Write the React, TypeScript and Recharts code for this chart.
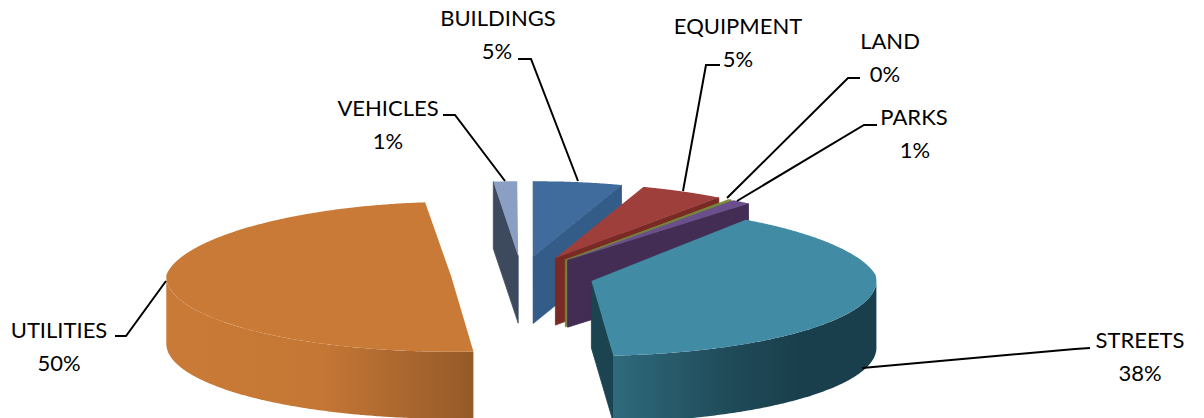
import { PieChart, Pie } from 'recharts'

const names = ['VEHICLES', 'BUILDINGS', 'EQUIPMENT', 'LAND', 'PARKS', 'STREETS', 'UTILITIES']
const shares = [1.45, 5.4, 5, 0.2, 1.1, 37.5, 49.5]

const topColors = ['#8a9fc3', '#3f6c9d', '#9e3f3c', '#77933c', '#6a4f8c', '#418ba5', '#c97a36']
const wallColors = ['#3d4a5e', '#345c88', '#7a2a24', '#77803c', '#432d54', 'url(#wallStreets)', 'url(#wallUtilities)']
const edgeColors = ['#3d4a5e', '#345c88', '#7a2a24', '#77803c', '#432d54', '#1b4350', '#c97a36']
// extra degrees on the leading edge: the big front slice overlaps the back ones in the 3D view
const leadAngles = [0, 0, 0, 0, 0, 5.5, 0]
// the rims of the small back slices sit a bit further right than a plain radial explode puts them
const backShift = [5, 7, 8, 8, 8, 0, 0]

const FLATTEN = 0.263
const DEPTH = 67
const EXPLODE = 72
const PERSPECTIVE = 0.06

// label block + leader line for each slice
const labelSpots: Record<string, { x: number; y: number; px: number; line: string }> = {
  VEHICLES: { x: 388, y: 116, px: 388, line: '443,115 455,115 505,181' },
  BUILDINGS: { x: 498, y: 26, px: 497, line: '518,59 531,59 578,181' },
  EQUIPMENT: { x: 738, y: 34, px: 738, line: '720,65 706,65 683,191' },
  LAND: { x: 890, y: 49, px: 885, line: '860,78 848,78 727,198' },
  PARKS: { x: 914, y: 125, px: 915, line: '877,125 864,125 737,201' },
  STREETS: { x: 1140, y: 348, px: 1140, line: '1090,348 1075,349 862,368' },
  UTILITIES: { x: 59, y: 338, px: 59, line: '115,336 126,336 166,281' },
}

const data = names.map((name, i) => ({ name, value: shares[i] }))

function Slice3D(props: any) {
  const { cx, cy, startAngle, endAngle, outerRadius: r, name } = props
  const i = names.indexOf(name)
  const rad = (d: number) => (d * Math.PI) / 180
  const mid = rad((startAngle + endAngle) / 2)
  const ax = cx + EXPLODE * Math.cos(mid)
  const ay = cy - EXPLODE * FLATTEN * Math.sin(mid)
  // far side of the pie is drawn a little narrower
  const warp = (x: number, y: number) => [
    cx + (x - cx) * (1 + (PERSPECTIVE * Math.min(0, y - cy)) / (r * FLATTEN)),
    y,
  ]
  const at = (deg: number) =>
    warp(ax + backShift[i] + r * Math.cos(rad(deg)), ay - r * FLATTEN * Math.sin(rad(deg)))
  const apex = warp(ax, ay)

  const hi = startAngle + leadAngles[i]
  const lo = endAngle
  const rim: number[][] = []
  for (let d = 0; d <= 180; d += 0.5) {
    rim.push(at(hi - (hi - lo) * (d / 180)))
  }
  const toPath = (pts: number[][]) => pts.map((p) => `${p[0].toFixed(1)},${p[1].toFixed(1)}`).join(' ')

  // front part of the rim gets an outer wall
  const front: number[][] = []
  for (let d = hi; d >= lo; d -= 0.5) {
    if (Math.sin(rad(d)) <= 0) front.push(at(d))
  }
  if (front.length > 0 && Math.sin(rad(lo)) <= 0) front.push(at(lo))
  const wallPts = [...front, ...[...front].reverse().map((p) => [p[0], p[1] + DEPTH])]

  const radial = (deg: number) => {
    const p = at(deg)
    return toPath([apex, p, [p[0], p[1] + DEPTH], [apex[0], apex[1] + DEPTH]])
  }
  // clockwise on screen: hi is the leading edge
  const startVisible = Math.cos(rad(hi)) < 0
  const endVisible = Math.cos(rad(lo)) > 0

  return (
    <g>
      {startVisible && <polygon points={radial(hi)} fill={edgeColors[i]} stroke={edgeColors[i]} strokeWidth={0.8} />}
      {endVisible && <polygon points={radial(lo)} fill={edgeColors[i]} stroke={edgeColors[i]} strokeWidth={0.8} />}
      {front.length > 1 && <polygon points={toPath(wallPts)} fill={wallColors[i]} />}
      <polygon points={toPath([apex, ...rim])} fill={topColors[i]} />
    </g>
  )
}

function SliceLabel(props: any) {
  const { name, value } = props
  const s = labelSpots[name]
  return (
    <g>
      <polyline points={s.line} fill="none" stroke="#000" strokeWidth={2} />
      <text x={s.x} y={s.y} textAnchor="middle" fontFamily="Lato" fontSize={22} fill="#000">
        {name}
      </text>
      <text x={s.px} y={s.y + 33} textAnchor="middle" fontFamily="Lato" fontSize={22} fill="#000">
        {Math.round(value)}%
      </text>
    </g>
  )
}

export default function App() {
  return (
    <div style={{ position: 'absolute', left: 0, top: 0, width: 1204, height: 418, background: '#fff' }}>
      <PieChart width={1204} height={418} margin={{ top: 0, right: 0, bottom: 0, left: 0 }}>
        <defs>
          <linearGradient id="wallStreets" x1="0" y1="0" x2="1" y2="0">
            <stop offset="0" stopColor="#2f6a7c" />
            <stop offset="0.45" stopColor="#1f4a58" />
            <stop offset="0.7" stopColor="#1a3f4c" />
            <stop offset="1" stopColor="#1a3f4c" />
          </linearGradient>
          <linearGradient id="wallUtilities" x1="0" y1="0" x2="1" y2="0">
            <stop offset="0" stopColor="#c97a36" />
            <stop offset="0.5" stopColor="#c57735" />
            <stop offset="1" stopColor="#955a29" />
          </linearGradient>
        </defs>
        <Pie
          data={data}
          dataKey="value"
          nameKey="name"
          cx={523}
          cy={275}
          innerRadius={0}
          outerRadius={285}
          startAngle={96.5}
          endAngle={-263.5}
          paddingAngle={0}
          stroke="none"
          shape={Slice3D}
          label={SliceLabel}
          labelLine={false}
          isAnimationActive={false}
        />
      </PieChart>
    </div>
  )
}
